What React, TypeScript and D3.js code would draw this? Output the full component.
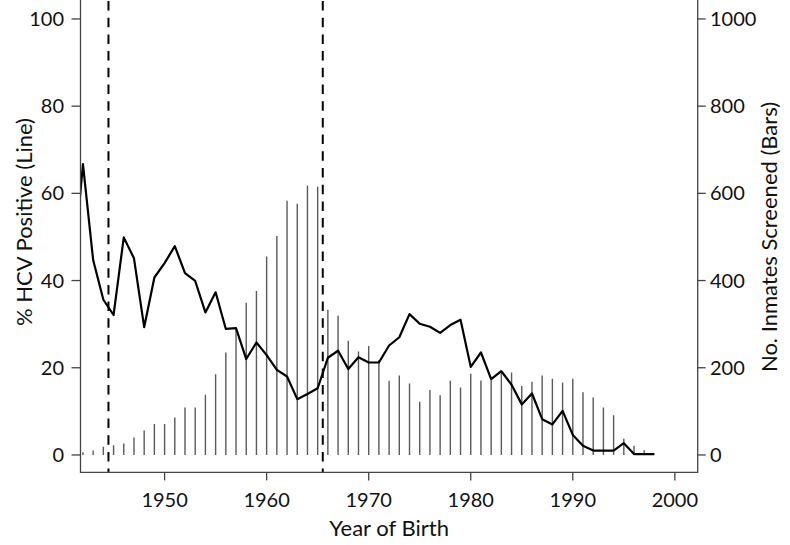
import * as d3 from 'd3';
import React from 'react';

// percent HCV positive by year of birth (line, left axis)
const lineYears = d3.range(1941, 1999);
const pctPositive = [
  41, 66.7, 44.7, 35.6, 32.1, 49.9, 45.1, 29.3, 40.7, 44.0,
  47.9, 41.7, 39.9, 32.7, 37.3, 28.9, 29.1, 22.0, 25.8, 22.9,
  19.5, 18.0, 12.8, 14.0, 15.3, 22.3, 23.9, 19.7, 22.4, 21.2,
  21.2, 25.1, 27.0, 32.3, 30.1, 29.4, 28.0, 29.8, 31.0, 20.2,
  23.5, 17.4, 19.2, 16.1, 11.6, 14.1, 8.2, 7.0, 10.1, 4.6,
  2.1, 1.0, 1.0, 1.0, 2.7, 0.2, 0.2, 0.2,
];

// number of inmates screened (bars, right axis)
const barYears = d3.range(1942, 1998);
const screened = [
  6, 10, 19, 22, 26, 40, 56, 71, 71, 86,
  109, 109, 138, 185, 235, 290, 349, 376, 455, 502,
  583, 576, 618, 615, 333, 319, 262, 237, 250, 218,
  170, 182, 164, 122, 149, 137, 170, 155, 186, 171,
  175, 192, 189, 158, 168, 182, 175, 166, 175, 144,
  132, 109, 91, 37, 21, 11,
];

const cohortBounds = [1944.5, 1965.5];
const xTicks = [1950, 1960, 1970, 1980, 1990, 2000];
const leftTicks = [0, 20, 40, 60, 80, 100];
const rightTicks = [0, 200, 400, 600, 800, 1000];

const W = 790;
const H = 545;
const left = 80.5;
const right = 697.7;
const top = 1.5;
const bottom = 472.4;
const font = 'Lato, "Open Sans", sans-serif';
const axisColor = '#444';

export default function App() {
  const x = d3.scaleLinear().domain([1941.76, 2002.24]).range([left, right]);
  const yL = d3.scaleLinear().domain([-4, 104]).range([bottom, top]);
  const yR = d3.scaleLinear().domain([-40, 1040]).range([bottom, top]);

  const line = d3
    .line<number>()
    .x((_, i) => x(lineYears[i]))
    .y((d) => yL(d))(pctPositive);

  return (
    <svg width={W} height={H} style={{ position: 'absolute', left: 0, top: 0, background: '#fff' }}>
      <defs>
        <clipPath id="plot">
          <rect x={left} y={0} width={right - left} height={bottom} />
        </clipPath>
      </defs>
      <g clipPath="url(#plot)">
        {barYears.map((yr, i) => (
          <line
            key={yr}
            x1={x(yr)}
            x2={x(yr)}
            y1={yR(0)}
            y2={yR(screened[i])}
            stroke="#5a5a5a"
            strokeWidth={1.4}
          />
        ))}
        <path d={line ?? ''} fill="none" stroke="#000" strokeWidth={2.2} strokeLinejoin="round" />
      </g>
      {cohortBounds.map((yr) => (
        <line
          key={yr}
          x1={x(yr)}
          x2={x(yr)}
          y1={1}
          y2={bottom}
          stroke="#000"
          strokeWidth={2}
          strokeDasharray="9.5 7.2"
        />
      ))}
      {/* box: left, bottom, right */}
      <path
        d={`M${left},0V${bottom}H${right}V0`}
        fill="none"
        stroke={axisColor}
        strokeWidth={1.3}
      />
      <g fontFamily={font} fontSize={20} fill="#111">
        {xTicks.map((t) => (
          <g key={t}>
            <line x1={x(t)} x2={x(t)} y1={bottom} y2={bottom + 8} stroke={axisColor} strokeWidth={1.3} />
            <text x={x(t)} y={507} textAnchor="middle">
              {t}
            </text>
          </g>
        ))}
        {leftTicks.map((t) => (
          <g key={t}>
            <line x1={left - 9} x2={left} y1={yL(t)} y2={yL(t)} stroke={axisColor} strokeWidth={1.3} />
            <text x={64} y={yL(t)} dy="0.35em" textAnchor="end">
              {t}
            </text>
          </g>
        ))}
        {rightTicks.map((t) => (
          <g key={t}>
            <line x1={right} x2={right + 8} y1={yR(t)} y2={yR(t)} stroke={axisColor} strokeWidth={1.3} />
            <text x={710} y={yR(t)} dy="0.35em" textAnchor="start">
              {t}
            </text>
          </g>
        ))}
      </g>
      <g fontFamily={font} fontSize={22} fill="#111" textAnchor="middle">
        <text x={(left + right) / 2} y={536}>
          Year of Birth
        </text>
        <text transform={`translate(32,222) rotate(-90)`}>% HCV Positive (Line)</text>
        <text transform={`translate(769,${(top + bottom) / 2}) rotate(-90)`} dy="0.35em">
          No. Inmates Screened (Bars)
        </text>
      </g>
    </svg>
  );
}
